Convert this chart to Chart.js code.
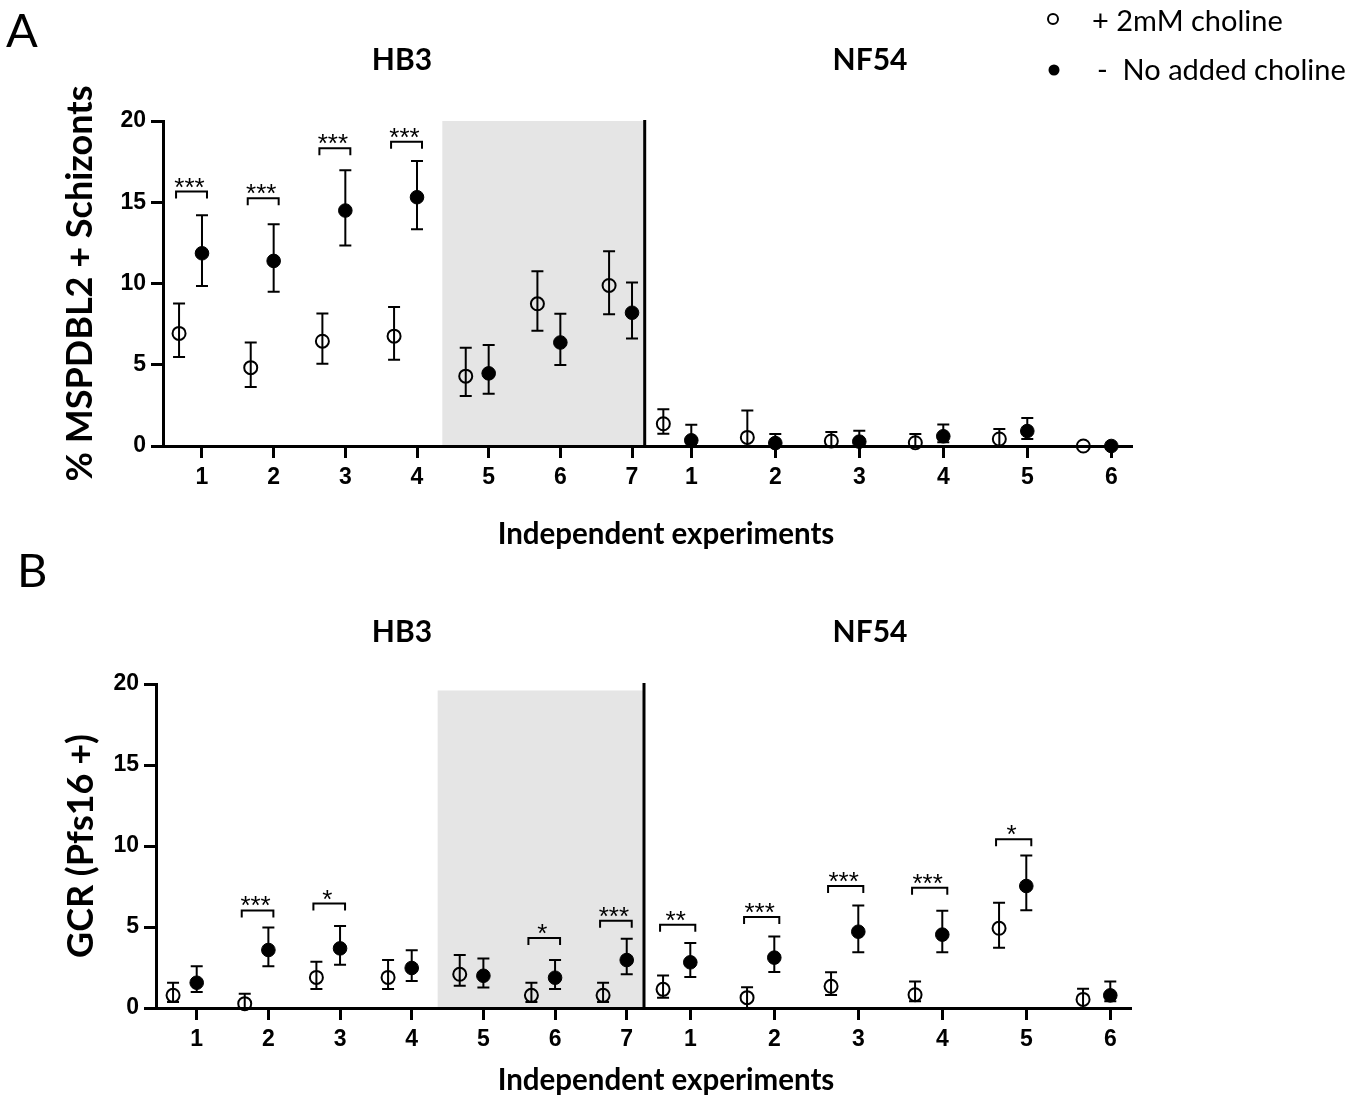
<!DOCTYPE html>
<html>
<head>
<meta charset="utf-8">
<script src="https://cdn.jsdelivr.net/npm/chart.js@4.4.1/dist/chart.umd.min.js"></script>
<style>
  html, body { margin: 0; padding: 0; background: #fff; }
  .panel { position: absolute; left: 0; width: 1358px; height: 549px; }
</style>
</head>
<body>
<div class="panel" style="top:0"><canvas id="chartA" width="1358" height="549"></canvas></div>
<div class="panel" style="top:549px"><canvas id="chartB" width="1358" height="549"></canvas></div>
<script>
// experiment labels
const hb3Labels = ['1', '2', '3', '4', '5', '6', '7'];
const nf54Labels = ['1', '2', '3', '4', '5', '6'];
const yTicks = [0, 5, 10, 15, 20];

// A: % MSPDBL2 + schizonts (mean, upper, lower)
const mspHb3Open = [6.93, 4.82, 6.45, 6.76, 4.30, 8.75, 9.88];
const mspHb3OpenHi = [8.77, 6.37, 8.16, 8.55, 6.05, 10.76, 11.99];
const mspHb3OpenLo = [5.47, 3.63, 5.06, 5.31, 3.07, 7.09, 8.11];
const mspHb3Filled = [11.86, 11.39, 14.49, 15.31, 4.47, 6.37, 8.20];
const mspHb3FilledHi = [14.20, 13.65, 16.97, 17.54, 6.21, 8.14, 10.06];
const mspHb3FilledLo = [9.84, 9.49, 12.34, 13.34, 3.22, 4.98, 6.62];
const mspNf54Open = [1.37, 0.53, 0.31, 0.20, 0.43, 0];
const mspNf54OpenHi = [2.26, 2.19, 0.86, 0.74, 1.05, 0];
const mspNf54OpenLo = [0.76, 0, 0, 0, 0, 0];
const mspNf54Filled = [0.35, 0.18, 0.27, 0.60, 0.92, 0];
const mspNf54FilledHi = [1.31, 0.74, 0.94, 1.33, 1.72, 0];
const mspNf54FilledLo = [0, 0, 0, 0.23, 0.43, 0];
const mspHb3Stars = ['***', '***', '***', '***', '', '', ''];
const mspHb3StarAt = [15.66, 15.25, 18.32, 18.73, null, null, null];
const mspNf54Stars = ['', '', '', '', '', ''];
const mspNf54StarAt = [null, null, null, null, null, null];

// B: GCR (Pfs16 +)
const gcrHb3Open = [0.78, 0.27, 1.89, 1.89, 2.08, 0.78, 0.78];
const gcrHb3OpenHi = [1.56, 0.88, 2.86, 2.96, 3.27, 1.56, 1.56];
const gcrHb3OpenLo = [0.37, 0, 1.17, 1.17, 1.38, 0.37, 0.37];
const gcrHb3Filled = [1.56, 3.58, 3.68, 2.47, 1.99, 1.87, 2.96];
const gcrHb3FilledHi = [2.57, 4.97, 5.06, 3.56, 3.06, 2.96, 4.28];
const gcrHb3FilledLo = [0.99, 2.57, 2.67, 1.66, 1.27, 1.17, 2.08];
const gcrNf54Open = [1.15, 0.64, 1.34, 0.82, 4.92, 0.53];
const gcrNf54OpenHi = [2.0, 1.28, 2.2, 1.63, 6.5, 1.19];
const gcrNf54OpenLo = [0.64, 0, 0.8, 0.41, 3.72, 0];
const gcrNf54Filled = [2.82, 3.11, 4.71, 4.53, 7.53, 0.78];
const gcrNf54FilledHi = [4.01, 4.42, 6.32, 6.01, 9.42, 1.63];
const gcrNf54FilledLo = [1.91, 2.22, 3.44, 3.44, 6.03, 0.41];
const gcrHb3Stars = ['', '***', '*', '', '', '*', '***'];
const gcrHb3StarAt = [null, 6.02, 6.45, null, null, 4.32, 5.39];
const gcrNf54Stars = ['**', '***', '***', '***', '*', ''];
const gcrNf54StarAt = [5.14, 5.62, 7.53, 7.43, 10.41, null];

const TICK_FONT = { family: 'Liberation Sans', size: 23, weight: 'bold' };

function pts(xs, shift, ys, hi, lo) {
  return xs.map((x, i) => ({ x: x + shift, y: ys[i], hi: hi[i], lo: lo[i] }));
}

function makePanel(id, p) {
  const hbX = hb3Labels.map((_, i) => i + 1);
  const nfX = nf54Labels.map((_, i) => p.nfStart + i * p.nfStep);
  const tickPos = hbX.concat(nfX);
  const tickText = hb3Labels.concat(nf54Labels);

  const openData = pts(hbX, p.hbShift, p.hbOpen, p.hbOpenHi, p.hbOpenLo)
    .concat(pts(nfX, p.nfShift, p.nfOpen, p.nfOpenHi, p.nfOpenLo));
  const filledData = pts(hbX, 0, p.hbFilled, p.hbFilledHi, p.hbFilledLo)
    .concat(pts(nfX, 0, p.nfFilled, p.nfFilledHi, p.nfFilledLo));
  const brackets = hbX.map((x, i) => ({ x0: x + p.hbShift, x1: x, y: p.hbStarAt[i], s: p.hbStars[i] }))
    .concat(nfX.map((x, i) => ({ x0: x + p.nfShift, x1: x, y: p.nfStarAt[i], s: p.nfStars[i] })));

  const deco = {
    id: 'deco' + id,
    beforeDraw(chart) {
      const { ctx, scales: { x, y } } = chart;
      ctx.save();
      ctx.fillStyle = '#e5e5e5';
      const l = x.getPixelForValue(p.shadeFrom), r = x.getPixelForValue(p.divider);
      const t = y.getPixelForValue(p.shadeTop), b = y.getPixelForValue(0);
      ctx.fillRect(l, t, r - l, b - t);
      ctx.restore();
    },
    beforeDatasetsDraw(chart) {
      const { ctx, scales: { x, y } } = chart;
      ctx.save();
      ctx.strokeStyle = '#000';
      // divider between strains
      ctx.lineWidth = 3;
      const dx = x.getPixelForValue(p.divider);
      ctx.beginPath();
      ctx.moveTo(dx, y.getPixelForValue(20) - 1);
      ctx.lineTo(dx, y.getPixelForValue(0));
      ctx.stroke();
      // error bars
      ctx.lineWidth = 2;
      chart.data.datasets.forEach(ds => {
        ds.data.forEach(d => {
          if (d.hi === d.y && d.lo === d.y) return;
          const px = x.getPixelForValue(d.x);
          const ph = y.getPixelForValue(d.hi), pl = y.getPixelForValue(d.lo);
          ctx.beginPath();
          ctx.moveTo(px, ph); ctx.lineTo(px, pl);
          ctx.moveTo(px - 6, ph); ctx.lineTo(px + 6, ph);
          ctx.moveTo(px - 6, pl); ctx.lineTo(px + 6, pl);
          ctx.stroke();
        });
      });
      ctx.restore();
    },
    afterDraw(chart) {
      const { ctx, scales: { x, y }, chartArea } = chart;
      ctx.save();
      ctx.fillStyle = '#000';
      ctx.strokeStyle = '#000';
      // significance brackets
      ctx.lineWidth = 2;
      ctx.font = '26px "Liberation Sans"';
      ctx.textAlign = 'center';
      ctx.textBaseline = 'alphabetic';
      brackets.forEach(bk => {
        if (!bk.s) return;
        const a = x.getPixelForValue(bk.x0) - 3, c = x.getPixelForValue(bk.x1) + 5;
        const py = y.getPixelForValue(bk.y);
        ctx.beginPath();
        ctx.moveTo(a, py + 7); ctx.lineTo(a, py); ctx.lineTo(c, py); ctx.lineTo(c, py + 7);
        ctx.stroke();
        ctx.fillText(bk.s, (a + c) / 2 - 2, py + 4);
      });
      // panel letter
      ctx.textAlign = 'left';
      ctx.font = '47px Lato';
      ctx.fillText(p.letter, p.letterX, p.letterY);
      // strain titles
      ctx.textAlign = 'center';
      ctx.font = 'bold 30px Lato';
      ctx.fillText('HB3', 402, p.titleY);
      ctx.fillText('NF54', 870, p.titleY);
      // axis titles
      ctx.font = 'bold 29.5px Lato';
      ctx.fillText('Independent experiments', 666, p.xTitleY);
      ctx.save();
      ctx.translate(p.yTitleX, (chartArea.top + chartArea.bottom) / 2);
      ctx.rotate(-Math.PI / 2);
      ctx.font = 'bold 36px Lato';
      ctx.fillText(p.yTitle, 0, 0);
      ctx.restore();
      // legend
      if (p.legend) {
        ctx.lineWidth = 2;
        ctx.beginPath(); ctx.arc(1053, 19, 5, 0, Math.PI * 2); ctx.stroke();
        ctx.beginPath(); ctx.arc(1054, 70, 5.5, 0, Math.PI * 2); ctx.fill();
        ctx.textAlign = 'left';
        ctx.font = '29px Lato';
        ctx.fillText('+ 2mM choline', 1092, 31);
        ctx.fillText('-  No added choline', 1097, 80);
      }
      ctx.restore();
    }
  };

  return new Chart(document.getElementById(id), {
    type: 'scatter',
    data: {
      datasets: [
        { label: '+ 2mM choline', data: openData, pointStyle: 'circle', pointRadius: 6.5,
          pointBorderWidth: 2, borderColor: '#000', backgroundColor: 'rgba(0,0,0,0)', clip: false },
        { label: '- No added choline', data: filledData, pointStyle: 'circle', pointRadius: 6.8,
          pointBorderWidth: 1, borderColor: '#000', backgroundColor: '#000', clip: false }
      ]
    },
    options: {
      responsive: false,
      animation: false,
      events: [],
      layout: { padding: { left: 0, top: p.top, right: p.right, bottom: 0 } },
      plugins: { legend: { display: false }, tooltip: { enabled: false } },
      scales: {
        x: {
          type: 'linear', min: p.xMin, max: p.xMax,
          afterFit(s) { s.height = p.xAxisH; },
          afterBuildTicks(s) { s.ticks = tickPos.map(v => ({ value: v })); },
          border: { display: true, color: '#000', width: 3 },
          grid: { drawOnChartArea: false, drawTicks: true, tickLength: 12, tickWidth: 3, tickColor: '#000', color: '#000' },
          ticks: {
            autoSkip: false, maxRotation: 0, padding: 6, color: '#000', font: TICK_FONT,
            callback(v, i) { return tickText[i]; }
          }
        },
        y: {
          min: 0, max: 20,
          afterFit(s) { s.width = p.yAxisW; },
          afterBuildTicks(s) { s.ticks = yTicks.map(v => ({ value: v })); },
          border: { display: true, color: '#000', width: 3 },
          grid: { drawOnChartArea: false, drawTicks: true, tickLength: 12, tickWidth: 3, tickColor: '#000', color: '#000' },
          ticks: { padding: 5, color: '#000', font: TICK_FONT }
        }
      }
    },
    plugins: [deco]
  });
}

makePanel('chartA', {
  letter: 'A', letterX: 6, letterY: 47, titleY: 70, xTitleY: 544, yTitle: '% MSPDBL2 + Schizonts', yTitleX: 92,
  legend: true,
  top: 121, right: 226, yAxisW: 163, xAxisH: 103,
  xMin: 0.456, xMax: 13.976, nfStart: 7.827, nfStep: 1.172, hbShift: -0.32, nfShift: -0.39,
  divider: 7.177, shadeFrom: 4.353, shadeTop: 20,
  hbOpen: mspHb3Open, hbOpenHi: mspHb3OpenHi, hbOpenLo: mspHb3OpenLo,
  hbFilled: mspHb3Filled, hbFilledHi: mspHb3FilledHi, hbFilledLo: mspHb3FilledLo,
  nfOpen: mspNf54Open, nfOpenHi: mspNf54OpenHi, nfOpenLo: mspNf54OpenLo,
  nfFilled: mspNf54Filled, nfFilledHi: mspNf54FilledHi, nfFilledLo: mspNf54FilledLo,
  hbStars: mspHb3Stars, hbStarAt: mspHb3StarAt, nfStars: mspNf54Stars, nfStarAt: mspNf54StarAt
});

makePanel('chartB', {
  letter: 'B', letterX: 17, letterY: 38, titleY: 93, xTitleY: 541, yTitle: 'GCR (Pfs16 +)', yTitleX: 93,
  legend: false,
  top: 135, right: 227, yAxisW: 156, xAxisH: 90,
  xMin: 0.432, xMax: 14.036, nfStart: 7.887, nfStep: 1.172, hbShift: -0.33, nfShift: -0.38,
  divider: 7.241, shadeFrom: 4.362, shadeTop: 19.6,
  hbOpen: gcrHb3Open, hbOpenHi: gcrHb3OpenHi, hbOpenLo: gcrHb3OpenLo,
  hbFilled: gcrHb3Filled, hbFilledHi: gcrHb3FilledHi, hbFilledLo: gcrHb3FilledLo,
  nfOpen: gcrNf54Open, nfOpenHi: gcrNf54OpenHi, nfOpenLo: gcrNf54OpenLo,
  nfFilled: gcrNf54Filled, nfFilledHi: gcrNf54FilledHi, nfFilledLo: gcrNf54FilledLo,
  hbStars: gcrHb3Stars, hbStarAt: gcrHb3StarAt, nfStars: gcrNf54Stars, nfStarAt: gcrNf54StarAt
});
</script>
</body>
</html>
